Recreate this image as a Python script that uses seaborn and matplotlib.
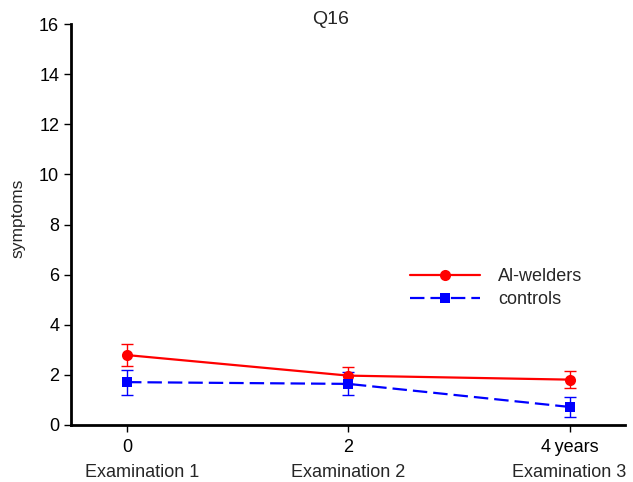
import numpy as np
import pandas as pd
import matplotlib
matplotlib.use("Agg")
import matplotlib.pyplot as plt
from matplotlib.lines import Line2D
from matplotlib.transforms import blended_transform_factory
import seaborn as sns

# Follow-up times (years) and examination names
years = [0, 2, 4]
year_labels = ["0", "2", "4\u2009years"]
exams = ["Examination 1", "Examination 2", "Examination 3"]

# Mean symptom counts and their error bars
welders_mean = [2.79, 1.97, 1.81]
welders_err = [0.44, 0.35, 0.34]
controls_mean = [1.71, 1.64, 0.72]
controls_err = [0.50, 0.46, 0.40]

groups = ["Al-welders", "controls"]

df = pd.DataFrame({
    "year": years * 2,
    "symptoms": welders_mean + controls_mean,
    "group": [groups[0]] * 3 + [groups[1]] * 3,
})

sns.set_style("white")
plt.rcParams["font.family"] = ["Liberation Sans", "DejaVu Sans"]

fig = plt.figure(figsize=(6.33, 4.82), dpi=100)
ax = fig.add_axes([0.1122, 0.1183, 0.875, 0.8317])

red, blue = "#ff0000", "#0000ff"
dash = [6.5, 2.7]

# error bars first so the markers sit on top
ax.errorbar(years, welders_mean, yerr=welders_err, fmt="none",
            ecolor=red, elinewidth=1.0, capsize=4.5, capthick=1.0, zorder=2)
ax.errorbar(years, controls_mean, yerr=controls_err, fmt="none",
            ecolor=blue, elinewidth=1.0, capsize=4.5, capthick=1.0, zorder=2)

sns.lineplot(data=df[df.group == groups[0]], x="year", y="symptoms",
             color=red, marker="o", markersize=8, markeredgewidth=0,
             linewidth=1.6, ax=ax, zorder=3)
sns.lineplot(data=df[df.group == groups[1]], x="year", y="symptoms",
             color=blue, marker="s", markersize=6.5, markeredgewidth=0,
             linewidth=1.6, ax=ax, zorder=3)
ax.lines[-1].set_dashes(dash)

ax.set_xlim(-0.506, 4.5)
ax.set_ylim(0, 16)
ax.set_yticks(range(0, 17, 2))
ax.set_xticks(years)
ax.set_xticklabels(year_labels)
ax.set_xlabel("")
ax.set_ylabel("symptoms", fontsize=12.5)
ax.yaxis.set_label_coords(-0.083, 0.515)

for side in ["top", "right"]:
    ax.spines[side].set_visible(False)
for side in ["left", "bottom"]:
    ax.spines[side].set_linewidth(2.0)
    ax.spines[side].set_color("black")
ax.tick_params(axis="both", direction="out", length=5, width=1.0,
               labelsize=13, colors="black", left=True, bottom=True)
ax.tick_params(axis="x", pad=5)

fig.text(331 / 633, 1 - 20 / 482, "Q16", ha="center", va="center", fontsize=14)

# examination names under the time ticks (the first one nudged inward)
trans = blended_transform_factory(ax.transData, ax.transAxes)
nudge = [10.8, 0, 0]
for y, name, dx in zip(years, exams, nudge):
    ax.annotate(name, xy=(y, -0.098), xycoords=trans, xytext=(dx, 0),
                textcoords="offset points", ha="center", va="top", fontsize=13)

handles = [
    Line2D([], [], color=red, marker="o", markersize=8, linewidth=1.6,
           markeredgewidth=0),
    Line2D([], [], color=blue, marker="s", markersize=6.5, linewidth=1.6,
           markeredgewidth=0, dashes=dash),
]
ax.legend(handles, groups, loc="upper left", bbox_to_anchor=(0.582, 0.4325),
          frameon=False, fontsize=13, handlelength=3.9, numpoints=1,
          handletextpad=1.0, labelspacing=0.35)

fig.savefig("out.png", dpi=100)
